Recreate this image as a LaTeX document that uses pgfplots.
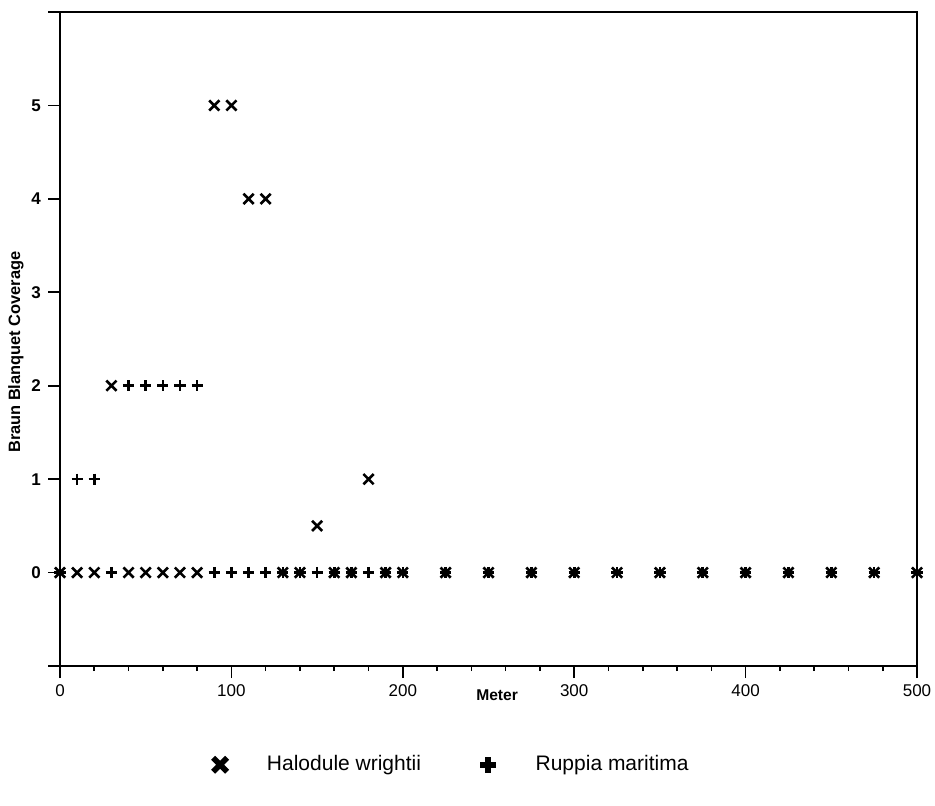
\documentclass[border=0pt]{standalone}
\usepackage{fontspec}
\setmainfont{Liberation Sans}
\usepackage{pgfplots}
\pgfplotsset{compat=1.18}
\begin{document}
\begin{tikzpicture}
\path[use as bounding box] (-30pt,-69.5pt) rectangle (437.5pt,333pt);
\begin{axis}[
  at={(0,0)}, anchor=south west,
  scale only axis, width=428.5pt, height=327pt,
  xmin=0, xmax=500, ymin=-1, ymax=6,
  clip=false,
  xtick={0,100,...,500}, minor xtick={20,40,...,480},
  ytick={-1,0,...,6}, yticklabels={,0,1,2,3,4,5,},
  xtick pos=left, ytick pos=left,
  tick align=outside,
  major tick length=6pt, minor tick length=2.5pt,
  tick style={black, line width=0.8pt},
  axis line style={line width=0.8pt},
  /pgf/number format/assume math mode=true,
  xticklabel style={font=\fontsize{8.5}{10}\selectfont},
  yticklabel style={font=\fontsize{8.5}{10}\selectfont\bfseries},
  xlabel={Meter},
  xlabel style={font=\fontsize{7.8}{9}\selectfont\bfseries, at={(axis description cs:0.51,-0.0443)}, anchor=center},
  ylabel={Braun Blanquet Coverage},
  ylabel style={font=\fontsize{8.2}{9}\selectfont\bfseries, at={(axis description cs:-0.0513,0.48)}, anchor=center},
  legend style={draw=none, fill=none, inner sep=0pt, at={(0.175,-0.151)}, anchor=west,
    font=\fontsize{10.5}{12}\selectfont,
    nodes={inner xsep=0pt},
    /tikz/every odd column/.append style={column sep=18.5pt},
    /tikz/every even column/.append style={column sep=28pt}},
  legend columns=2,
]
\addlegendimage{legend image code/.code={\draw[line width=2.8pt] (-3.5pt,-3.5pt)--(3.5pt,3.5pt) (-3.5pt,3.5pt)--(3.5pt,-3.5pt);}}
\addlegendentry{Halodule wrightii}
\addlegendimage{legend image code/.code={\draw[line width=3pt] (-3.9pt,0)--(3.9pt,0) (0,-3.9pt)--(0,3.9pt);}}
\addlegendentry{Ruppia maritima}
\addplot[forget plot, only marks, mark=x, mark size=3.6pt, mark options={line width=1.3pt}] coordinates {
(0,0) (10,0) (20,0) (30,2) (40,0) (50,0) (60,0) (70,0) (80,0) (90,5) (100,5) (110,4) (120,4)
(130,0) (140,0) (150,0.5) (160,0) (170,0) (180,1) (190,0) (200,0)
(225,0) (250,0) (275,0) (300,0) (325,0) (350,0) (375,0) (400,0) (425,0) (450,0) (475,0) (500,0)};
\addplot[forget plot, only marks, mark=+, mark size=2.8pt, mark options={line width=1.3pt}] coordinates {
(0,0) (10,1) (20,1) (30,0) (40,2) (50,2) (60,2) (70,2) (80,2) (90,0) (100,0) (110,0) (120,0)
(130,0) (140,0) (150,0) (160,0) (170,0) (180,0) (190,0) (200,0)
(225,0) (250,0) (275,0) (300,0) (325,0) (350,0) (375,0) (400,0) (425,0) (450,0) (475,0) (500,0)};
\end{axis}
\end{tikzpicture}
\end{document}
